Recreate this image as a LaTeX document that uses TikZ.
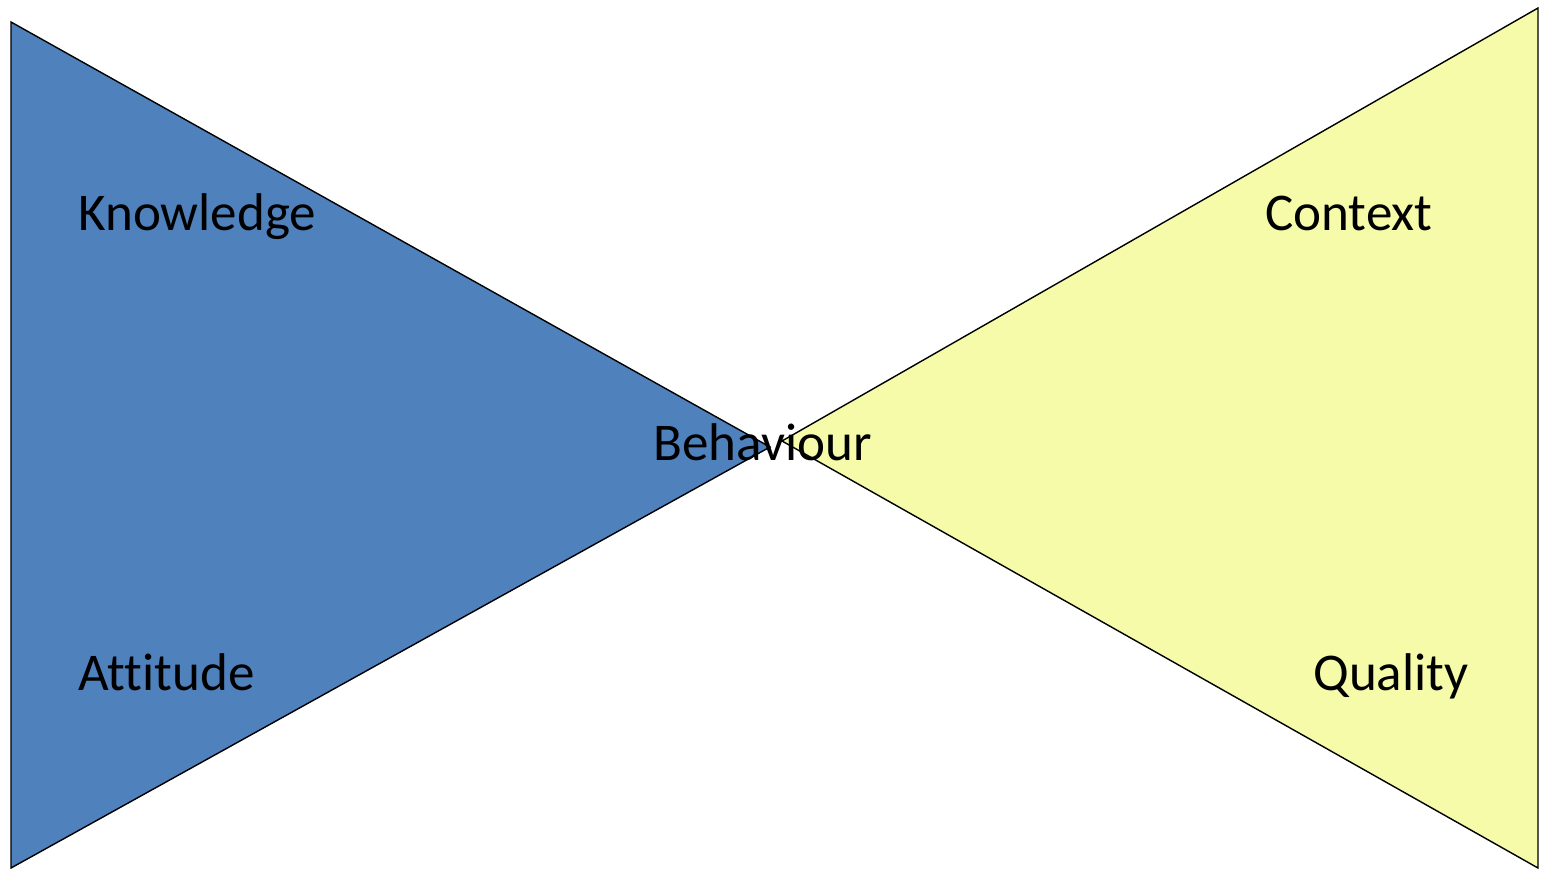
\documentclass[tikz,border=0pt]{standalone}
\usepackage{fontspec}
\setmainfont{Carlito}[Ligatures=NoCommon]
\usepackage{tikz}
\definecolor{kablue}{HTML}{4F81BD}
\definecolor{cqyellow}{HTML}{F5FBA9}

\begin{document}
\begin{tikzpicture}[x=0.02cm,y=-0.02cm]
\tikzstyle{wedge} = [draw=black,line width=0.8pt,line join=miter]
\tikzstyle{word} = [inner sep=0pt,anchor=base west,font=\fontsize{30.2}{36}\selectfont]
\useasboundingbox (0,0) rectangle (1542,869);
\filldraw[wedge,fill=kablue] (11,22) -- (770,447) -- (11,868) -- cycle;
\filldraw[wedge,fill=cqyellow] (1538,8) -- (782,441) -- (1538,868) -- cycle;
\node[word] (know) at (78,230) {Knowledge};
\node[word] (att) at (78,690) {Attitude};
\node[word] (ctx) at (1265,230) {Context};
\node[word] (qual) at (1313,690) {Quality};
\node[word] (beh) at (653,460) {Behaviour};
\end{tikzpicture}
\end{document}
